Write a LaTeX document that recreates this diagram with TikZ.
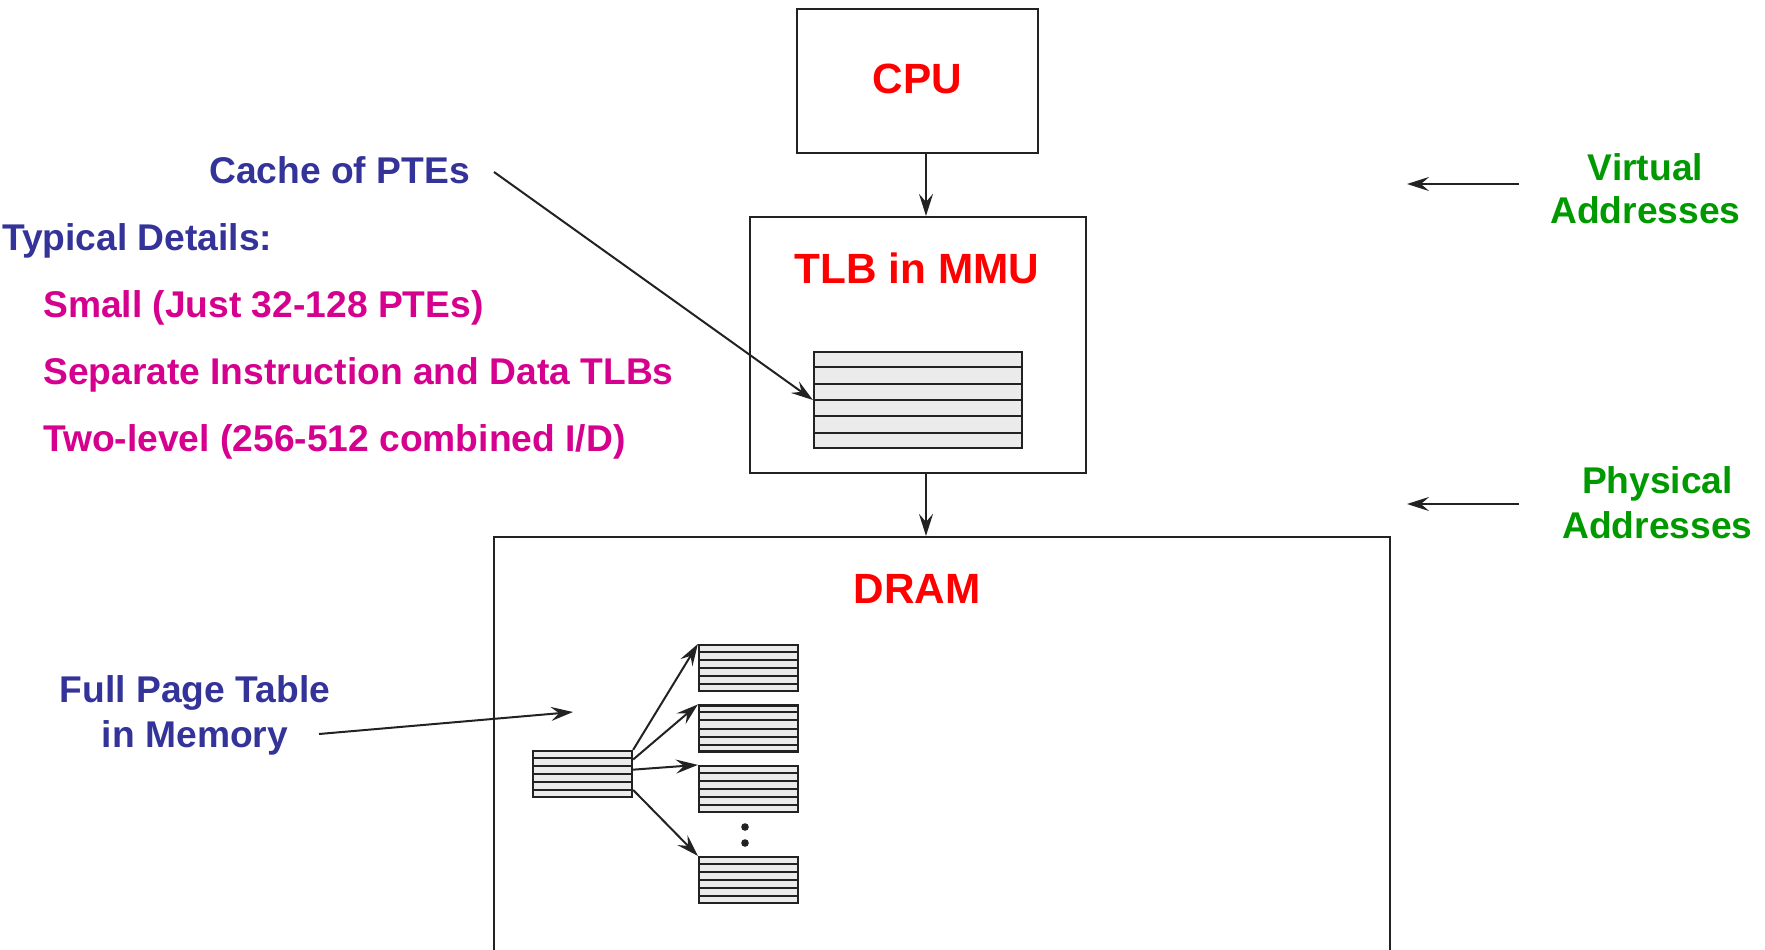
\documentclass[tikz,border=0pt]{standalone}
\usepackage{fontspec}
\setmainfont{Liberation Sans}
\usetikzlibrary{arrows.meta,calc}
\definecolor{cBlue}{RGB}{51,51,153}
\definecolor{cMag}{RGB}{214,0,143}
\definecolor{cGreen}{RGB}{0,153,0}
\definecolor{cRed}{RGB}{255,0,0}
\definecolor{cFill}{RGB}{235,235,235}
\definecolor{cLine}{RGB}{34,34,34}
\begin{document}
\begin{tikzpicture}[x=1pt,y=-1pt,
 box/.style={draw=cLine,line width=2.2pt,rectangle,inner sep=0pt},
 tbl/.style={draw=cLine,fill=cFill,line width=2.2pt,rectangle,inner sep=0pt},
 title/.style={text=cRed,font=\fontsize{42.3}{50}\selectfont\bfseries,anchor=base,inner sep=0pt},
 lbl/.style={font=\fontsize{37.2}{44}\selectfont\bfseries,inner sep=0pt},
 conn/.style={draw=cLine,line width=2pt,-{Stealth[length=22pt,width=14pt,inset=8pt]}},
 rowline/.style={draw=cLine,line width=2pt},
]
\useasboundingbox (0,0) rectangle (1765,950);
\clip (0,0) rectangle (1765,950);

% boxes
\node[box,minimum width=241pt,minimum height=144pt] (cpu) at (917.5,81) {};
\node[title] (cputxt) at (917.5,93) {CPU};
\node[box,minimum width=336pt,minimum height=256pt] (tlb) at (918,345) {};
\node[title] (tlbtxt) at (917,283) {TLB in MMU};
\node[tbl,minimum width=208pt,minimum height=96pt] (tlbtab) at (918,400) {};
\node[box,minimum width=896pt,minimum height=433pt] (dram) at (942,753.5) {};
\node[title] (dramtxt) at (917,603) {DRAM};

% page tables
\node[tbl,minimum width=99pt,minimum height=46pt] (root) at (582.5,774) {};
\node[tbl,minimum width=99pt,minimum height=46pt] (pt1) at (748.5,668) {};
\node[tbl,minimum width=99pt,minimum height=46pt] (pt2) at (748.5,728.5) {};
\node[tbl,minimum width=99pt,minimum height=46pt] (pt3) at (748.5,789) {};
\node[tbl,minimum width=99pt,minimum height=46pt] (pt4) at (748.5,880) {};

\foreach \t in {tlbtab,root,pt1,pt2,pt3,pt4}{
  \foreach \i in {1,...,5}{
    \draw[rowline] ($(\t.north west)!\i/6!(\t.south west)$) -- ($(\t.north east)!\i/6!(\t.south east)$);
  }
}

\fill[cLine] (745,827) circle (3.8pt);
\fill[cLine] (745,843) circle (3.8pt);

% vertical connectors
\coordinate (xa) at (926,0);
\draw[conn] (cpu.south -| xa) -- (tlb.north -| xa);
\draw[conn] (tlb.south -| xa) -- (dram.north -| xa);

% page table connectors
\draw[conn] (root.north east) -- (pt1.north west);
\draw[conn] ($(root.north east)!0.2!(root.south east)$) -- (pt2.north west);
\draw[conn] ($(root.north east)!0.41!(root.south east)$) -- (pt3.north west);
\draw[conn] ($(root.north east)!0.83!(root.south east)$) -- (pt4.north west);

% labels
\node[lbl,text=cBlue,anchor=base east] (cache) at (470,183) {Cache of PTEs};
\node[lbl,text=cBlue,anchor=base west] (typ) at (2,250) {Typical Details:};
\node[lbl,text=cMag,anchor=base west] (d1) at (43,317) {Small (Just 32-128 PTEs)};
\node[lbl,text=cMag,anchor=base west] (d2) at (43,384) {Separate Instruction and Data TLBs};
\node[lbl,text=cMag,anchor=base west] (d3) at (43,451) {Two-level (256-512 combined I/D)};
\node[lbl,text=cBlue,anchor=base] (fpt1) at (195,702) {Full Page Table};
\node[lbl,text=cBlue,anchor=base] (fpt2) at (195,747) {in Memory};
\node[lbl,text=cGreen,anchor=base] (va1) at (1645.5,180) {Virtual};
\node[lbl,text=cGreen,anchor=base] (va2) at (1645.5,223) {Addresses};
\node[lbl,text=cGreen,anchor=base] (pa1) at (1657.5,493) {Physical};
\node[lbl,text=cGreen,anchor=base] (pa2) at (1657.5,538) {Addresses};

% label connectors
\coordinate (cacheS) at (494,172);
\draw[conn] (cacheS) -- (tlbtab.west);
\coordinate (fpS) at (319,734);
\coordinate (fpE) at (573,712);
\draw[conn] (fpS) -- (fpE);
\coordinate (vS) at (1519,184);
\coordinate (vE) at (1407,184);
\draw[conn] (vS) -- (vE);
\coordinate (pS) at (1519,504);
\coordinate (pE) at (1407,504);
\draw[conn] (pS) -- (pE);
\end{tikzpicture}
\end{document}
